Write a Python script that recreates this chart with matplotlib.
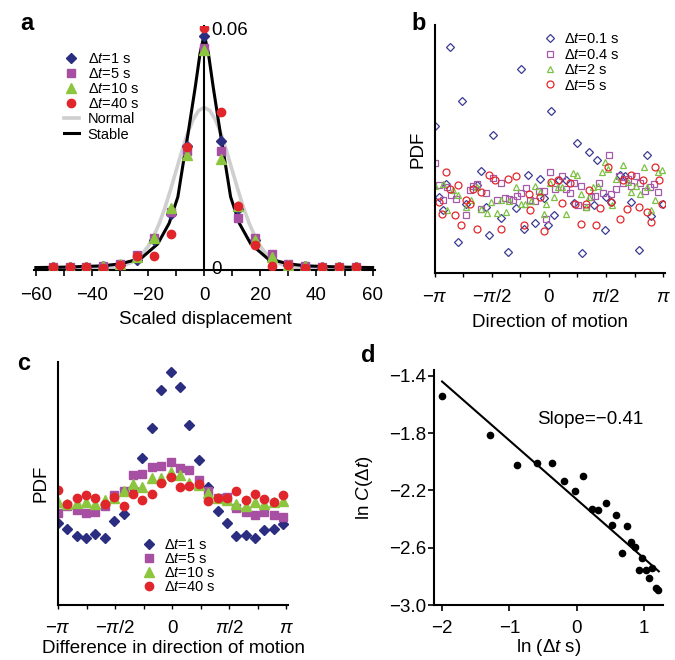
import numpy as np
import matplotlib
matplotlib.use("Agg")
import matplotlib.pyplot as plt
from matplotlib.ticker import MultipleLocator

plt.rcParams['font.family'] = ['Liberation Sans', 'DejaVu Sans']
plt.rcParams['mathtext.fontset'] = 'custom'
plt.rcParams['mathtext.rm'] = 'Liberation Sans'
plt.rcParams['mathtext.it'] = 'Liberation Sans:italic'
plt.rcParams['axes.unicode_minus'] = True

# ---------------- panel a: scaled displacement ----------------
disp_x = [-54, -48, -42, -36, -30, -24, -18, -12, -6, 0, 6, 12, 18, 24, 30, 36, 42, 48, 54]
a_dt1 = [0.0003, 0.0003, 0.0003, 0.0004, 0.0007, 0.0019, 0.0069, 0.0136, 0.0306, 0.0582,
         0.0318, 0.0147, 0.0071, 0.0021, 0.0007, 0.0004, 0.0003, 0.0003, 0.0003]
a_dt5 = [0.0003, 0.0003, 0.0003, 0.0005, 0.0011, 0.0033, 0.0075, 0.0139, 0.0293, 0.0552,
         0.0292, 0.0125, 0.0075, 0.0034, 0.0011, 0.0005, 0.0003, 0.0003, 0.0003]
a_dt10 = [0.0002, 0.0002, 0.0003, 0.0005, 0.0009, 0.0028, 0.0074, 0.0149, 0.0282, 0.0547,
          0.0272, 0.0155, 0.0071, 0.0028, 0.0008, 0.0005, 0.0003, 0.0002, 0.0002]
a_dt40 = [0.0002, 0.0002, 0.0002, 0.0001, 0.0008, 0.0030, 0.0030, 0.0086, 0.0303, 0.0600,
          0.0391, 0.0155, 0.0058, 0.0004, 0.0008, 0.0001, 0.0002, 0.0002, 0.0002]

normal_x = [-60, -50, -40, -34, -30, -28, -26, -24, -22, -20, -18, -16, -14, -12, -10, -8, -6, -4, -2, 0,
            2, 4, 6, 8, 10, 12, 14, 16, 18, 20, 22, 24, 26, 28, 30, 34, 40, 50, 60]
normal_y = [0.0, 0.0, 0.0, 0.0001, 0.0004, 0.0008, 0.0014, 0.0023, 0.0036, 0.0054, 0.0080, 0.0112,
            0.0151, 0.0196, 0.0244, 0.0292, 0.0336, 0.0371, 0.0394, 0.0402,
            0.0394, 0.0371, 0.0336, 0.0292, 0.0244, 0.0196, 0.0151, 0.0112, 0.0080, 0.0054,
            0.0036, 0.0023, 0.0014, 0.0008, 0.0004, 0.0001, 0.0, 0.0, 0.0]

stable_x = [-60, -50, -37, -30, -22.5, -16.6, -12.5, -9.4, -7.5, -5.8, -3.2, -1.5, 0,
            1.5, 3.2, 5.8, 7.5, 9.4, 12.5, 16.6, 22.5, 30, 37, 50, 60]
stable_y = [0.0001, 0.0002, 0.0005, 0.0010, 0.0024, 0.0060, 0.0112, 0.0178, 0.0262, 0.0335, 0.0453,
            0.0537, 0.0585, 0.0537, 0.0453, 0.0335, 0.0262, 0.0178, 0.0112, 0.0060, 0.0024,
            0.0010, 0.0005, 0.0002, 0.0001]

# ---------------- panel b: direction of motion ----------------
b01_x = [-3.14, -3.03, -2.91, -2.82, -2.71, -2.50, -2.39, -2.27, -1.98, -1.86, -1.72, -1.65, -1.54,
         -1.33, -1.12, -0.91, -0.78, -0.69, -0.57, -0.37, -0.25, -0.14, -0.02, 0.05, 0.15, 0.28,
         0.48, 0.68, 0.78, 0.92, 1.11, 1.23, 1.33, 1.54, 1.58, 1.72, 1.95, 2.09, 2.27, 2.48,
         2.70, 2.82, 3.14]
b01_y = [0.282, 0.147, 0.122, 0.172, 0.433, 0.060, 0.330, 0.132, 0.170, 0.197, 0.127, 0.074, 0.266,
         0.106, 0.040, 0.125, 0.391, 0.085, 0.188, 0.096, 0.181, 0.144, 0.092, 0.312, 0.112, 0.178,
         0.178, 0.135, 0.250, 0.038, 0.233, 0.131, 0.218, 0.082, 0.146, 0.136, 0.189, 0.186, 0.136,
         0.045, 0.227, 0.109, 0.132]
b04_x = [-3.14, -3.02, -2.91, -2.80, -2.68, -2.55, -2.29, -2.18, -2.09, -1.97, -1.86, -1.74, -1.54,
         -1.44, -1.33, -1.22, -1.10, -0.99, -0.89, -0.77, -0.62, -0.53, -0.37, -0.28, -0.14, -0.07,
         0.04, 0.16, 0.35, 0.46, 0.57, 0.69, 0.80, 0.89, 1.03, 1.15, 1.28, 1.38, 1.49, 1.65, 1.72,
         1.86, 1.93, 2.04, 2.18, 2.27, 2.39, 2.50, 2.64, 2.78, 2.89, 3.00]
b04_y = [0.212, 0.170, 0.141, 0.165, 0.150, 0.143, 0.112, 0.159, 0.168, 0.172, 0.124, 0.154, 0.183,
         0.141, 0.173, 0.145, 0.143, 0.140, 0.149, 0.154, 0.164, 0.140, 0.138, 0.157, 0.157, 0.104,
         0.194, 0.162, 0.187, 0.162, 0.154, 0.173, 0.130, 0.168, 0.127, 0.147, 0.149, 0.173, 0.154,
         0.226, 0.152, 0.162, 0.186, 0.173, 0.180, 0.168, 0.186, 0.173, 0.157, 0.165, 0.172, 0.156]
b2_x = [-3.12, -2.91, -2.80, -2.64, -2.50, -2.27, -2.13, -1.98, -1.86, -1.70, -1.58, -1.44, -1.31,
        -1.17, -1.10, -0.91, -0.78, -0.66, -0.48, -0.37, -0.25, -0.14, -0.07, 0.04, 0.14, 0.25,
        0.35, 0.46, 0.67, 0.78, 0.88, 1.03, 1.11, 1.22, 1.35, 1.45, 1.54, 1.63, 1.75, 1.86, 2.04,
        2.18, 2.27, 2.41, 2.52, 2.61, 2.70, 2.82, 2.91, 3.00, 3.12]
b2_y = [0.168, 0.172, 0.122, 0.160, 0.151, 0.127, 0.141, 0.165, 0.124, 0.116, 0.136, 0.115, 0.140,
        0.117, 0.138, 0.165, 0.133, 0.133, 0.138, 0.168, 0.156, 0.114, 0.133, 0.173, 0.146, 0.166,
        0.165, 0.114, 0.192, 0.188, 0.152, 0.127, 0.147, 0.165, 0.168, 0.194, 0.213, 0.200, 0.130,
        0.181, 0.208, 0.175, 0.156, 0.168, 0.152, 0.204, 0.165, 0.122, 0.140, 0.194, 0.198]
b5_x = [-3.03, -2.93, -2.82, -2.73, -2.59, -2.50, -2.41, -2.27, -2.18, -2.09, -1.98, -1.86, -1.65,
        -1.49, -1.33, -1.12, -0.91, -0.69, -0.55, -0.51, -0.25, -0.14, 0.07, 0.25, 0.37, 0.57,
        0.71, 0.89, 1.03, 1.11, 1.31, 1.42, 1.63, 1.72, 1.95, 2.04, 2.16, 2.27, 2.48, 2.59, 2.70,
        2.80, 2.91, 3.03, 3.12]
b5_y = [0.136, 0.114, 0.195, 0.162, 0.111, 0.170, 0.093, 0.141, 0.133, 0.162, 0.085, 0.156, 0.189,
        0.178, 0.085, 0.181, 0.186, 0.092, 0.152, 0.122, 0.147, 0.081, 0.175, 0.178, 0.134, 0.173,
        0.132, 0.095, 0.132, 0.159, 0.092, 0.125, 0.204, 0.136, 0.104, 0.178, 0.124, 0.188, 0.128,
        0.178, 0.118, 0.098, 0.204, 0.178, 0.133]

# ---------------- panel c: difference in direction ----------------
c_x = [-3.14, -2.88, -2.62, -2.37, -2.11, -1.85, -1.59, -1.33, -1.08, -0.82, -0.56, -0.30, -0.04,
       0.21, 0.47, 0.73, 0.99, 1.25, 1.50, 1.76, 2.02, 2.28, 2.54, 2.79, 3.05]
c_dt1 = [0.121, 0.112, 0.101, 0.098, 0.104, 0.099, 0.123, 0.134, 0.172, 0.216, 0.260, 0.316, 0.342,
         0.320, 0.265, 0.213, 0.174, 0.138, 0.121, 0.101, 0.103, 0.098, 0.110, 0.112, 0.119]
c_dt5 = [0.135, 0.145, 0.139, 0.135, 0.137, 0.145, 0.162, 0.167, 0.191, 0.193, 0.203, 0.204, 0.210,
         0.201, 0.199, 0.184, 0.168, 0.158, 0.159, 0.143, 0.137, 0.133, 0.136, 0.132, 0.130]
c_dt10 = [0.152, 0.149, 0.150, 0.152, 0.149, 0.155, 0.158, 0.167, 0.178, 0.173, 0.186, 0.186, 0.195,
          0.191, 0.180, 0.176, 0.164, 0.158, 0.155, 0.149, 0.145, 0.152, 0.149, 0.152, 0.153]
c_dt40 = [0.169, 0.149, 0.158, 0.162, 0.157, 0.149, 0.159, 0.145, 0.163, 0.154, 0.163, 0.179, 0.188,
          0.173, 0.175, 0.178, 0.153, 0.158, 0.157, 0.167, 0.154, 0.163, 0.156, 0.151, 0.161]

# ---------------- panel d: ln C vs ln dt ----------------
d_x = [-2.00, -1.29, -0.89, -0.59, -0.37, -0.19, -0.03, 0.10, 0.22, 0.32, 0.43, 0.52, 0.59, 0.67,
       0.74, 0.80, 0.86, 0.97, 0.92, 1.03, 1.07, 1.12, 1.18, 1.21]
d_y = [-1.542, -1.814, -2.022, -2.011, -2.011, -2.131, -2.202, -2.098, -2.328, -2.340, -2.288,
       -2.441, -2.370, -2.638, -2.451, -2.557, -2.593, -2.669, -2.756, -2.756, -2.808, -2.744,
       -2.884, -2.896]
fit_x = [-2.0, 1.22]
fit_y = [-1.44, -2.765]

NAVY = '#2b2d80'
PURPLE = '#a64fa3'
GREEN = '#8cc63f'
RED = '#e0262b'
GRAY = '#cfcfcf'

pi_ticks = [-np.pi, -np.pi / 2, 0, np.pi / 2, np.pi]
pi_labels = [r'$-\pi$', r'$-\pi/2$', '0', r'$\pi/2$', r'$\pi$']

FS = 13.5
XPAD = 8


def clean_axes(ax):
    ax.spines['top'].set_visible(False)
    ax.spines['right'].set_visible(False)
    ax.spines['left'].set_linewidth(1.5)
    ax.spines['bottom'].set_linewidth(1.5)


fig = plt.figure(figsize=(6.75, 6.6), dpi=100)

# ---- a ----
ax = fig.add_axes([0.0511, 0.591, 0.505, 0.369])
ax.plot(normal_x, normal_y, color=GRAY, lw=2.6, label='Normal', zorder=2)
ax.plot(stable_x, stable_y, color='black', lw=2.2, label='Stable', zorder=3)
ax.plot(disp_x, a_dt1, 'D', color=NAVY, ms=5, ls='none', label=r'$\Delta t$=1 s', zorder=4)
ax.plot(disp_x, a_dt5, 's', color=PURPLE, ms=6, ls='none', label=r'$\Delta t$=5 s', zorder=5)
ax.plot(disp_x, a_dt10, '^', color=GREEN, ms=6.5, ls='none', label=r'$\Delta t$=10 s', zorder=6)
ax.plot(disp_x, a_dt40, 'o', color=RED, ms=6, ls='none', label=r'$\Delta t$=40 s', zorder=7)
ax.set_xlim(-60.5, 61)
ax.set_ylim(-0.0005, 0.0605)
ax.spines['top'].set_visible(False)
ax.spines['left'].set_visible(False)
ax.spines['right'].set_position(('data', 0))
ax.spines['right'].set_linewidth(1.5)
ax.spines['bottom'].set_linewidth(1.5)
ax.yaxis.tick_right()
ax.set_yticks([0, 0.06])
ax.set_yticklabels(['0', '0.06'])
ax.tick_params(axis='y', length=0, pad=5, labelsize=FS)
ax.set_xticks(range(-60, 61, 20))
ax.xaxis.set_minor_locator(MultipleLocator(10))
ax.tick_params(axis='x', which='both', direction='out', length=4, width=1.2, labelsize=FS, pad=XPAD)
ax.set_xlabel('Scaled displacement', fontsize=FS, labelpad=5)
h, l = ax.get_legend_handles_labels()
order = [2, 3, 4, 5, 0, 1]
ax.legend([h[i] for i in order], [l[i] for i in order], loc='upper left',
          bbox_to_anchor=(0.07, 0.92), frameon=False, fontsize=10.5, handlelength=1.0,
          handletextpad=0.6, labelspacing=0.08, borderaxespad=0)
fig.text(0.03, 0.965, 'a', fontsize=17, fontweight='bold', va='center')

# ---- b ----
ax = fig.add_axes([0.644, 0.586, 0.341, 0.376])
ax.plot(b01_x, b01_y, 'D', mfc='none', mec='#3b3b96', ms=4, mew=0.9, ls='none', label=r'$\Delta t$=0.1 s')
ax.plot(b04_x, b04_y, 's', mfc='none', mec='#a45aa8', ms=5, mew=0.9, ls='none', label=r'$\Delta t$=0.4 s')
ax.plot(b2_x, b2_y, '^', mfc='none', mec='#7cc144', ms=5, mew=0.9, ls='none', label=r'$\Delta t$=2 s')
ax.plot(b5_x, b5_y, 'o', mfc='none', mec='#e3262b', ms=5, mew=0.9, ls='none', label=r'$\Delta t$=5 s')
ax.set_xlim(-np.pi, np.pi + 0.05)
ax.set_ylim(0, 0.476)
clean_axes(ax)
ax.set_yticks([])
ax.set_xticks(pi_ticks)
ax.set_xticklabels(pi_labels)
ax.xaxis.set_minor_locator(MultipleLocator(np.pi / 4))
ax.tick_params(axis='x', which='both', direction='out', length=3, width=1, labelsize=FS, pad=XPAD)
ax.set_xlabel('Direction of motion', fontsize=FS, labelpad=6)
ax.set_ylabel('PDF', fontsize=FS, labelpad=6)
ax.legend(loc='upper right', bbox_to_anchor=(0.83, 0.995), frameon=False, fontsize=10.5,
          handlelength=1.0, handletextpad=0.5, labelspacing=0.1, borderaxespad=0)
fig.text(0.61, 0.965, 'b', fontsize=17, fontweight='bold', va='center')

# ---- c ----
ax = fig.add_axes([0.0859, 0.0833, 0.341, 0.368])
ax.plot(c_x, c_dt1, 'D', color=NAVY, ms=5, ls='none', label=r'$\Delta t$=1 s')
ax.plot(c_x, c_dt5, 's', color=PURPLE, ms=6, ls='none', label=r'$\Delta t$=5 s')
ax.plot(c_x, c_dt10, '^', color=GREEN, ms=6.5, ls='none', label=r'$\Delta t$=10 s')
ax.plot(c_x, c_dt40, 'o', color=RED, ms=6, ls='none', label=r'$\Delta t$=40 s')
ax.set_xlim(-np.pi, np.pi + 0.05)
ax.set_ylim(0, 0.357)
clean_axes(ax)
ax.set_yticks([])
ax.set_xticks(pi_ticks)
ax.set_xticklabels(pi_labels)
ax.xaxis.set_minor_locator(MultipleLocator(np.pi / 4))
ax.tick_params(axis='x', which='both', direction='out', length=3, width=1, labelsize=FS, pad=XPAD)
ax.set_xlabel('Difference in direction of motion', fontsize=FS, labelpad=2)
ax.set_ylabel('PDF', fontsize=FS, labelpad=6)
ax.legend(loc='lower left', bbox_to_anchor=(0.34, 0.02), frameon=False, fontsize=10.5,
          handlelength=1.0, handletextpad=0.5, labelspacing=0.0, borderaxespad=0)
fig.text(0.025, 0.45, 'c', fontsize=17, fontweight='bold', va='center')

# ---- d ----
ax = fig.add_axes([0.643, 0.0833, 0.339, 0.356])
ax.plot(fit_x, fit_y, color='black', lw=1.5)
ax.plot(d_x, d_y, 'o', color='black', ms=4.5, ls='none')
ax.set_xlim(-2.12, 1.28)
ax.set_ylim(-3.0, -1.36)
clean_axes(ax)
ax.set_xticks([-2, -1, 0, 1])
ax.set_yticks([-1.4, -1.8, -2.2, -2.6, -3.0])
ax.tick_params(which='both', direction='out', length=4, width=1.2, labelsize=FS)
ax.tick_params(axis='x', pad=7)
ax.tick_params(axis='y', pad=1.5)
ax.set_xlabel(r'ln ($\Delta t$ s)', fontsize=FS, labelpad=0)
ax.set_ylabel(r'ln $C(\Delta t)$', fontsize=FS, labelpad=10)
ax.text(-0.59, -1.707, 'Slope=\u22120.41', fontsize=FS, va='center', ha='left')
fig.text(0.535, 0.462, 'd', fontsize=17, fontweight='bold', va='center')

fig.savefig('out.png', dpi=100)
